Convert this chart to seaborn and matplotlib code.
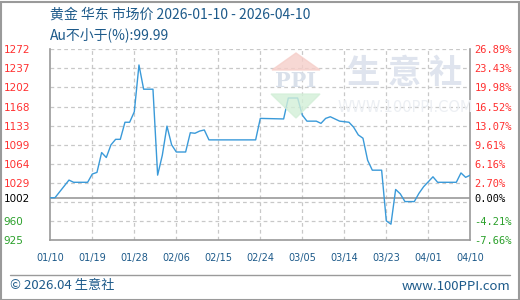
import numpy as np
import pandas as pd
import matplotlib
matplotlib.use("Agg")
import matplotlib.pyplot as plt
import matplotlib.dates as mdates
from matplotlib.patches import Polygon, Rectangle
from matplotlib.lines import Line2D
import seaborn as sns

# ---------------- data ----------------
dates = ["2026-01-10", "2026-01-11", "2026-01-14", "2026-01-15", "2026-01-18",
         "2026-01-19", "2026-01-20", "2026-01-21", "2026-01-22", "2026-01-23",
         "2026-01-24", "2026-01-25", "2026-01-26", "2026-01-27", "2026-01-28",
         "2026-01-29", "2026-01-30", "2026-02-01", "2026-02-02", "2026-02-03",
         "2026-02-04", "2026-02-05", "2026-02-06", "2026-02-08", "2026-02-09",
         "2026-02-10", "2026-02-11", "2026-02-12", "2026-02-13", "2026-02-23",
         "2026-02-24", "2026-03-01", "2026-03-02", "2026-03-04", "2026-03-05",
         "2026-03-06", "2026-03-08", "2026-03-09", "2026-03-10", "2026-03-11",
         "2026-03-13", "2026-03-15", "2026-03-16", "2026-03-17", "2026-03-18",
         "2026-03-19", "2026-03-20", "2026-03-22", "2026-03-23", "2026-03-24",
         "2026-03-25", "2026-03-26", "2026-03-27", "2026-03-29", "2026-03-30",
         "2026-03-31", "2026-04-01", "2026-04-02", "2026-04-03", "2026-04-07",
         "2026-04-08", "2026-04-09", "2026-04-10"]
prices = [1002, 1002, 1034, 1030, 1030,
          1045, 1048, 1084, 1075, 1098,
          1108, 1108, 1139, 1139, 1158,
          1243, 1199, 1199, 1043, 1079,
          1132, 1098, 1085, 1085, 1120,
          1119, 1123, 1125, 1107, 1107,
          1146, 1145, 1183, 1183, 1152,
          1141, 1141, 1137, 1146, 1149,
          1141, 1139, 1130, 1116, 1110,
          1070, 1052, 1052, 960, 954,
          1017, 1009, 995, 995, 1010,
          1022, 1031, 1040, 1030, 1030,
          1047, 1039, 1043]

base_price = 1002
pct_ticks = [-7.66, -4.21, -0.755, 2.70, 6.16, 9.61, 13.07, 16.52, 19.98, 23.43, 26.89]
left_labels = ["925", "960", "", "1029", "1064", "1099", "1133", "1168", "1202", "1237", "1272"]
right_labels = ["-7.66%", "-4.21%", "", "2.70%", "6.16%", "9.61%", "13.07%", "16.52%",
                "19.98%", "23.43%", "26.89%"]
x_ticks = ["2026-01-10", "2026-01-19", "2026-01-28", "2026-02-06", "2026-02-15",
           "2026-02-24", "2026-03-05", "2026-03-14", "2026-03-23", "2026-04-01", "2026-04-10"]
x_labels = ["01/10", "01/19", "01/28", "02/06", "02/15", "02/24", "03/05", "03/14",
            "03/23", "04/01", "04/10"]

title1 = "黄金 华东 市场价 2026-01-10 - 2026-04-10"
title2 = "Au不小于(%):99.99"
footer_left = "© 2026.04 生意社"
footer_right = "www.100PPI.com"

# ---------------- style ----------------
sns.set_theme(style="white")
plt.rcParams["font.family"] = ["DejaVu Sans", "Noto Sans CJK SC"]

W, H = 520, 300
fig = plt.figure(figsize=(W / 100, H / 100), dpi=100)
fig.patch.set_facecolor("white")

L, R, B, T = 50.3, 470.3, 240, 49.3
ax = fig.add_axes([L / W, 1 - B / H, (R - L) / W, (B - T) / H])
ax.set_facecolor("none")

df = pd.DataFrame({"date": pd.to_datetime(dates), "price": prices})

tick_vals = [base_price * (1 + p / 100) for p in pct_ticks]
ymin, ymax = tick_vals[0], tick_vals[-1]

blue_line = "#3a9ad9"
grid_c = "#c8c8c8"
spine_c = "#9a9a9a"
text_blue = "#1d5a8a"

# grid
for v in tick_vals:
    ax.axhline(v, color=grid_c, lw=0.9, ls=(0, (3, 2.5)), zorder=1)
xt = pd.to_datetime(x_ticks)
for d in xt[1:-1]:
    ax.axvline(d, color=grid_c, lw=0.9, ls=(0, (3, 2.5)), zorder=1)
ax.axhline(base_price, color=spine_c, lw=1.2, zorder=2)

sns.lineplot(data=df, x="date", y="price", ax=ax, color=blue_line, lw=1.0, zorder=5)

ax.set_xlim(xt[0], xt[-1])
ax.set_ylim(ymin, ymax)
ax.set_xlabel("")
ax.set_ylabel("")

ax.spines["top"].set_visible(False)
for s in ["left", "bottom", "right"]:
    ax.spines[s].set_visible(True)
    ax.spines[s].set_color(spine_c)
    ax.spines[s].set_linewidth(1.2)

# x ticks
ax.set_xticks(xt)
ax.set_xticklabels(x_labels)
ax.tick_params(axis="x", length=0, pad=9, labelsize=7, labelcolor=text_blue)

# left ticks
yt = tick_vals + [base_price]
ax.set_yticks(yt)
ax.set_yticklabels(left_labels + [str(base_price)])
ax.tick_params(axis="y", length=0, pad=33.5, labelsize=7.5)
def colr(lbl_val, is_base):
    if is_base:
        return "black"
    return "#ff3030" if lbl_val > base_price else "#2aa02a"
for lbl, v, isb in zip(ax.get_yticklabels(), yt, [False] * len(tick_vals) + [True]):
    lbl.set_horizontalalignment("left")
    lbl.set_color(colr(v, isb))

# right ticks
ax2 = ax.twinx()
ax2.set_ylim(ymin, ymax)
ax2.set_yticks(yt)
ax2.set_yticklabels(right_labels + ["0.00%"])
ax2.tick_params(axis="y", length=0, pad=3, labelsize=7.5)
for lbl, v, isb in zip(ax2.get_yticklabels(), yt, [False] * len(tick_vals) + [True]):
    lbl.set_color(colr(v, isb))
    lbl.set_family("DejaVu Sans Mono")
for s in ax2.spines.values():
    s.set_visible(False)
ax2.grid(False)
ax.grid(False)

# watermark (decorative)
def fx(x): return x / W
def fy(y): return 1 - y / H
fig.patches.append(Polygon([(fx(272), fy(70)), (fx(320), fy(70)), (fx(296), fy(53))],
                           closed=True, transform=fig.transFigure, color="#f6cfca", alpha=0.8, zorder=0))
fig.patches.append(Polygon([(fx(271), fy(94)), (fx(320), fy(94)), (fx(296), fy(118))],
                           closed=True, transform=fig.transFigure, color="#d3efd8", alpha=0.8, zorder=0))
fig.text(fx(296), fy(81), "PPI", ha="center", va="center", fontsize=15, color="#d9e0ea",
         family="DejaVu Serif", fontweight="bold", zorder=0)
fig.text(fx(405), fy(73), "生 意 社", ha="center", va="center", fontsize=24, color="#dfe4ee",
         family=["Noto Sans CJK SC"], fontweight="bold", zorder=0)
fig.text(fx(405), fy(107), "WWW.100PPI.COM", ha="center", va="center", fontsize=10.5, color="#eceff3",
         zorder=0)

# titles
fig.text(fx(50), fy(15), title1, ha="left", va="center", fontsize=10, color=text_blue,
         family=["Noto Sans CJK SC", "DejaVu Sans"])
fig.text(fx(50), fy(35), title2, ha="left", va="center", fontsize=10, color=text_blue,
         family=["Noto Sans CJK SC", "DejaVu Sans"])

# footer
fig.add_artist(Line2D([fx(10), fx(510)], [fy(275), fy(275)], transform=fig.transFigure,
                      color=spine_c, lw=1))
fig.text(fx(10), fy(286), footer_left, ha="left", va="center", fontsize=9.5, color=text_blue,
         family=["Noto Sans CJK SC", "DejaVu Sans"])
fig.text(fx(510), fy(286), footer_right, ha="right", va="center", fontsize=9.5, color=text_blue,
         family=["Noto Sans CJK SC", "DejaVu Sans"])

# outer border
fig.patches.append(Rectangle((0.5 / W, 0.5 / H), (W - 2) / W, (H - 2) / H, transform=fig.transFigure,
                             fill=False, edgecolor=spine_c, lw=1.5, zorder=10))

fig.savefig("out.png", dpi=100)
